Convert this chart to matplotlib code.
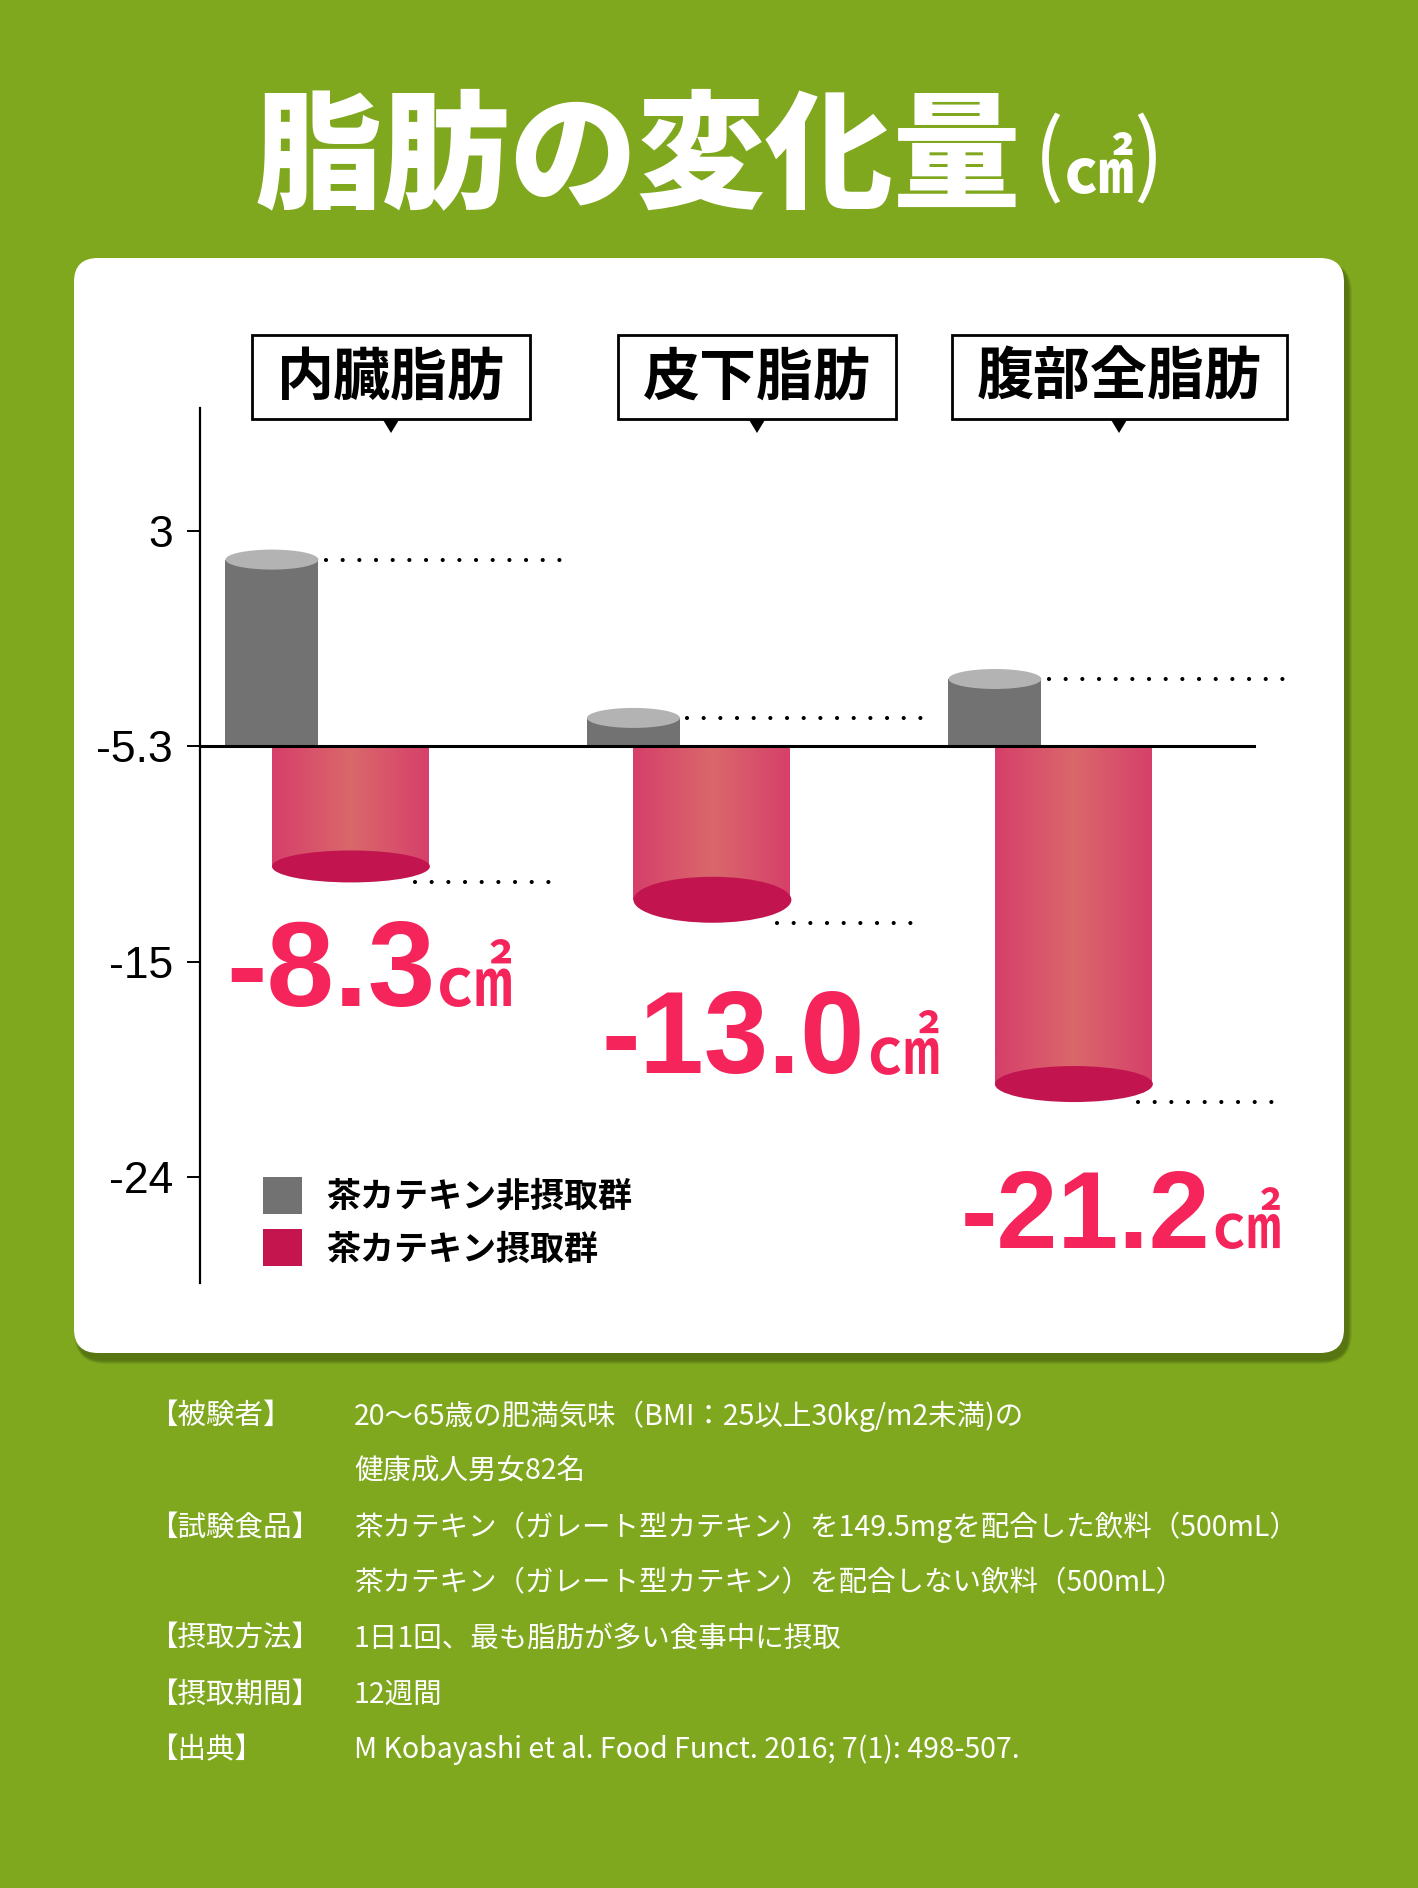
import numpy as np
import matplotlib
matplotlib.use("Agg")
import matplotlib.pyplot as plt
from matplotlib.patches import FancyBboxPatch, Rectangle, Ellipse, Polygon, Patch
from matplotlib.font_manager import FontProperties, fontManager
import matplotlib.transforms as mtransforms
from matplotlib.colors import LinearSegmentedColormap

# ------------------------------------------------------------------ data
categories = ["内臓脂肪", "皮下脂肪", "腹部全脂肪"]
series_names = ["茶カテキン非摂取群", "茶カテキン摂取群"]
control_values = [1.9, -4.2, -2.7]          # grey cylinders (top level on the axis)
catechin_values = [-10.7, -12.2, -20.1]     # pink cylinders (bottom level on the axis)
catechin_labels = ["-8.3", "-13.0", "-21.2"]
tick_values = [3, -5.3, -15, -24]
tick_labels = ["3", "-5.3", "-15", "-24"]
baseline_value = -5.3
title_main = "脂肪の変化量"
unit_text = "㎠"
note_labels = ["【被験者】", "", "【試験食品】", "", "【摂取方法】", "【摂取期間】", "【出典】"]
note_lines = [
    "20～65歳の肥満気味（BMI：25以上30kg/m2未満)の",
    "健康成人男女82名",
    "茶カテキン（ガレート型カテキン）を149.5mgを配合した飲料（500mL）",
    "茶カテキン（ガレート型カテキン）を配合しない飲料（500mL）",
    "1日1回、最も脂肪が多い食事中に摂取",
    "12週間",
    "M Kobayashi et al. Food Funct. 2016; 7(1): 498-507.",
]

# ------------------------------------------------------------------ style
W, H, DPI = 1418, 1888, 100
GREEN = "#7FA81F"
SHADOW = "#3E560A"
GREY = "#737272"
GREY_TOP = "#B3B3B3"
PINK_EDGE = "#D63F6B"
PINK_MID = "#DA686A"
PINK_BOTTOM = "#C2154F"
LEGEND_PINK = "#C4154F"
LABEL_RED = "#F5245A"
CJK = ["Noto Sans CJK JP", "DejaVu Sans"]

available = {f.name for f in fontManager.ttflist}
if "Liberation Sans Narrow" in available:
    NUM_FAMILY, NUM_SCALE = ["Liberation Sans Narrow", "DejaVu Sans"], 1.0
else:
    NUM_FAMILY, NUM_SCALE = ["Liberation Sans", "DejaVu Sans"], 0.84
TICK_FAMILY = ["Liberation Sans", "DejaVu Sans"]

plt.rcParams["font.family"] = CJK

fig = plt.figure(figsize=(W / DPI, H / DPI), dpi=DPI)
fig.patch.set_facecolor(GREEN)

# background / decoration layer in pixel coordinates (y downwards)
bg = fig.add_axes([0, 0, 1, 1], zorder=0)
bg.set_xlim(0, W)
bg.set_ylim(H, 0)
bg.axis("off")

# white panel with soft shadow
px0, py0, pw, ph = 74, 258, 1270, 1095
for k in range(9):
    bg.add_patch(FancyBboxPatch((px0 + 4 - k * 0.5, py0 + 7 - k * 0.5), pw + k, ph + k,
                                boxstyle=f"round,pad=0,rounding_size={24 + k}",
                                fc=SHADOW, ec="none", alpha=0.09, zorder=1))
bg.add_patch(FancyBboxPatch((px0, py0), pw, ph, boxstyle="round,pad=0,rounding_size=24",
                            fc="white", ec="none", zorder=2))

renderer = fig.canvas.get_renderer()

# title
t1 = bg.text(0, 197, title_main, color="white", fontsize=92, fontweight="black",
             family=CJK, ha="left", va="baseline", zorder=5)
tp1 = bg.text(0, 186, "(", color="white", fontsize=64, fontweight="normal",
              family=CJK, ha="left", va="baseline", zorder=5)
tu = bg.text(0, 193, unit_text, color="white", fontsize=50, fontweight="bold",
             family=CJK, ha="left", va="baseline", zorder=5)
tp2 = bg.text(0, 186, ")", color="white", fontsize=64, fontweight="normal",
              family=CJK, ha="left", va="baseline", zorder=5)
parts = [t1, tp1, tu, tp2]
gaps = [12, 0, 0]
widths = [p.get_window_extent(renderer).width for p in parts]
total = sum(widths) + sum(gaps)
cur = W / 2 - total / 2
for i, p in enumerate(parts):
    p.set_x(cur)
    cur += widths[i] + (gaps[i] if i < len(gaps) else 0)

# ------------------------------------------------------------------ chart axes
ax_l, ax_r, ax_t, ax_b = 200, 1300, 408, 1283
ax = fig.add_axes([ax_l / W, 1 - ax_b / H, (ax_r - ax_l) / W, (ax_b - ax_t) / H], zorder=2)
ax.patch.set_alpha(0)

tv_asc = np.array(sorted(tick_values), dtype=float)
idx_asc = np.arange(len(tv_asc), dtype=float)


def fwd(v):
    v = np.asarray(v, dtype=float)
    out = np.interp(v, tv_asc, idx_asc)
    lo = (idx_asc[1] - idx_asc[0]) / (tv_asc[1] - tv_asc[0])
    hi = (idx_asc[-1] - idx_asc[-2]) / (tv_asc[-1] - tv_asc[-2])
    out = np.where(v < tv_asc[0], idx_asc[0] + (v - tv_asc[0]) * lo, out)
    out = np.where(v > tv_asc[-1], idx_asc[-1] + (v - tv_asc[-1]) * hi, out)
    return out


def inv(u):
    u = np.asarray(u, dtype=float)
    out = np.interp(u, idx_asc, tv_asc)
    lo = (tv_asc[1] - tv_asc[0]) / (idx_asc[1] - idx_asc[0])
    hi = (tv_asc[-1] - tv_asc[-2]) / (idx_asc[-1] - idx_asc[-2])
    out = np.where(u < idx_asc[0], tv_asc[0] + (u - idx_asc[0]) * lo, out)
    out = np.where(u > idx_asc[-1], tv_asc[-1] + (u - idx_asc[-1]) * hi, out)
    return out


ax.set_yscale("function", functions=(fwd, inv))

xpos = np.arange(len(categories), dtype=float)
GRAY_W, PINK_W = 0.257, 0.437
PINK_ELL_H = [32, 46, 36]
XLIM = (-0.199, 2.844)
YLIM = (float(inv(-0.49)), float(inv(idx_asc[-1] + 0.571)))
px_per_x = (ax_r - ax_l) / (XLIM[1] - XLIM[0])


def ellipse_at(x, v, w_px, h_px, color, z):
    tr = mtransforms.Affine2D() + mtransforms.ScaledTranslation(x, v, ax.transData)
    ax.add_patch(Ellipse((0, 0), w_px, h_px, transform=tr, fc=color, ec="none", zorder=z))


# grey cylinders
ctrl = np.array(control_values)
ax.bar(xpos, ctrl - baseline_value, bottom=baseline_value, width=GRAY_W,
       color=GREY, linewidth=0, zorder=2)
for x, v in zip(xpos, ctrl):
    ellipse_at(x, v, GRAY_W * px_per_x, 20, GREY_TOP, 3)

# pink cylinders with horizontal gradient
cat = np.array(catechin_values)
pink_bars = ax.bar(xpos, cat - baseline_value, bottom=baseline_value, width=PINK_W,
                   align="edge", facecolor="none", linewidth=0, zorder=2)
cmap = LinearSegmentedColormap.from_list("pinkgrad", [PINK_EDGE, PINK_MID, PINK_EDGE])
grad = np.linspace(0, 1, 256).reshape(1, -1)
for rect, x, v, eh in zip(pink_bars.patches, xpos, cat, PINK_ELL_H):
    im = ax.imshow(grad, cmap=cmap, extent=(x, x + PINK_W, v, baseline_value),
                   aspect="auto", interpolation="bilinear", zorder=2)
    im.set_clip_path(rect)
    ellipse_at(x + PINK_W / 2, v, PINK_W * px_per_x, eh, PINK_BOTTOM, 3)

# dotted guide lines
dot_kw = dict(color="black", lw=3.0, linestyle=(0, (0.001, 4.0)),
              dash_capstyle="round", zorder=4)
for x, v in zip(xpos, ctrl):
    ax.plot([x + GRAY_W / 2 + 0.02, x + GRAY_W / 2 + 0.67], [v, v], **dot_kw)
for x, v, eh in zip(xpos, cat, PINK_ELL_H):
    below = mtransforms.offset_copy(ax.transData, fig=fig, y=-eh / 2, units="dots")
    ax.plot([x + PINK_W - 0.04, x + PINK_W + 0.37], [v, v], transform=below, **dot_kw)

# baseline
ax.axhline(baseline_value, xmin=0, xmax=(1254 - ax_l) / (ax_r - ax_l),
           color="black", lw=2.2, zorder=5)

ax.set_xlim(*XLIM)
ax.set_ylim(*YLIM)
ax.set_yticks(tick_values, labels=tick_labels)
ax.minorticks_off()
ax.set_xticks([])
for s in ["top", "right", "bottom"]:
    ax.spines[s].set_visible(False)
ax.spines["left"].set_linewidth(1.6)
ax.tick_params(axis="y", length=9.4, width=1.4, pad=10, labelsize=32)
for lab in ax.get_yticklabels():
    lab.set_family(TICK_FAMILY)

# legend
ax.legend(handles=[Patch(fc=GREY, ec="none"), Patch(fc=LEGEND_PINK, ec="none")],
          labels=series_names, loc="upper left",
          bbox_to_anchor=(263 / W, 1 - 1177 / H), bbox_transform=fig.transFigure,
          frameon=False, prop=FontProperties(family=CJK, weight="bold", size=24.5),
          handlelength=1.15, handleheight=1.3, handletextpad=0.7,
          labelspacing=0.45, borderpad=0, borderaxespad=0)

# ------------------------------------------------------------------ category boxes
box_cx = [391, 757, 1119]
box_top, box_bot = 335, 419
for name, cx in zip(categories, box_cx):
    t = bg.text(cx, (box_top + box_bot) / 2 + 1, name, fontsize=41, fontweight="bold",
                family=CJK, ha="center", va="center", color="black", zorder=6)
    tw = t.get_window_extent(renderer).width
    bw = tw + 50
    bg.add_patch(Rectangle((cx - bw / 2, box_top), bw, box_bot - box_top,
                           fc="white", ec="black", lw=2.0, zorder=5))
    bg.add_patch(Polygon([(cx - 8.5, box_bot), (cx + 8.5, box_bot), (cx, box_bot + 14)],
                         closed=True, fc="black", ec="none", zorder=5))

# ------------------------------------------------------------------ value labels
label_pos = [(226, 1006), (602, 1073), (961, 1248)]
label_size = [104, 99, 94]
for lab, (lx, ly), sz in zip(catechin_labels, label_pos, label_size):
    tn = bg.text(lx, ly, lab, color=LABEL_RED, fontsize=sz * NUM_SCALE, fontweight="bold",
                 family=NUM_FAMILY, ha="left", va="baseline", zorder=6)
    right = tn.get_window_extent(renderer).x1
    bg.text(right + 1, ly, unit_text, color=LABEL_RED, fontsize=sz * 0.53,
            fontweight="medium", family=CJK, ha="left", va="baseline", zorder=6)

# ------------------------------------------------------------------ notes
note_y0, note_dy = 1416, 55.7
for i, (lab, line) in enumerate(zip(note_labels, note_lines)):
    y = note_y0 + i * note_dy
    if lab:
        bg.text(149, y, lab, color="white", fontsize=20.5, family=CJK,
                ha="left", va="center", zorder=6)
    bg.text(354, y, line, color="white", fontsize=20.5, family=CJK,
            ha="left", va="center", zorder=6)

fig.savefig("out.png", dpi=DPI, facecolor=GREEN)
